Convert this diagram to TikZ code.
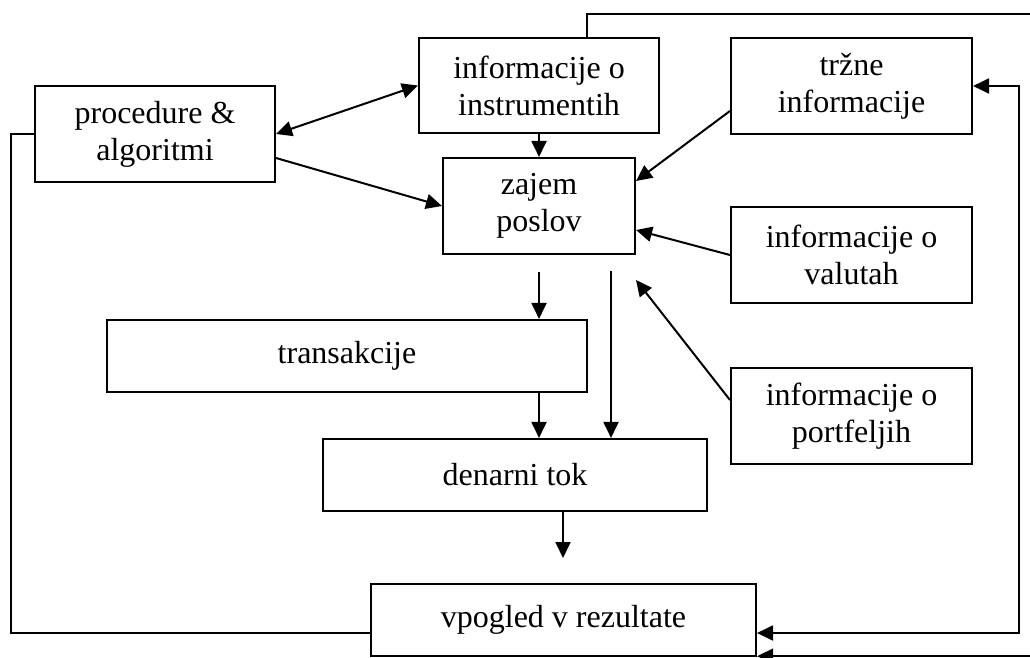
\documentclass[tikz,border=0pt]{standalone}
\usepackage{fontspec}
\setmainfont{Liberation Serif}
\usetikzlibrary{arrows.meta,calc}
\begin{document}
\begin{tikzpicture}[x=1pt,y=1pt,
  box/.style={draw, line width=2.1pt, align=center, inner sep=0pt,
    font=\fontsize{32}{37}\selectfont},
  link/.style={line width=2pt},
  arr/.style={link, -{Triangle[length=16pt,width=15pt]}},
  darr/.style={link, {Triangle[length=16pt,width=15pt]}-{Triangle[length=16pt,width=15pt]}}]
\clip (0,0) rectangle (1030,657);
\fill[white] (0,0) rectangle (1030,657);

% boxes
\node[box, minimum width=240, minimum height=96] (proc)    at (155,523)   {procedure \&\\algoritmi};
\node[box, minimum width=240, minimum height=95] (instr)   at (539,571.5) {informacije o\\instrumentih};
\node[box, minimum width=241, minimum height=96] (trzne)   at (851.5,571) {tržne\\informacije};
\node[box, minimum width=192, minimum height=96] (zajem)   at (539,451)   {zajem\\poslov};
\node[box, minimum width=241, minimum height=96] (valutah) at (851.5,402) {informacije o\\valutah};
\node[box, minimum width=480, minimum height=72] (trans)   at (347,301)   {transakcije};
\node[box, minimum width=241, minimum height=96] (portf)   at (851.5,241) {informacije o\\portfeljih};
\node[box, minimum width=384, minimum height=72] (denarni) at (515,182)   {denarni tok};
\node[box, minimum width=385, minimum height=72] (vpogled) at (563.5,37)  {vpogled v rezultate};

% free ends
\coordinate (ptip) at (636,377);
\coordinate (zs)   at (611,386);
\coordinate (vin)  at (563,99);
\coordinate (lc)   at (11,523);
\coordinate (rc)   at (1019,24);
\coordinate (tr)   at (1045,643);
\coordinate (br)   at (1045,0.8);

% inputs to zajem poslov
\draw[darr] (proc.east) -- (instr.west);
\draw[arr] ([yshift=-24]proc.east) -- (zajem.west);
\draw[arr] (instr.south) -- (zajem.north);
\draw[arr] ([yshift=-25]trzne.west) -- ([yshift=25]zajem.east);
\draw[arr] (valutah.west) -- ([yshift=-24]zajem.east);
\draw[arr] ([yshift=16]portf.west) -- (ptip);

% downward flow
\draw[arr] ([yshift=-17]zajem.south) -- (zajem.south |- trans.north);
\draw[arr] (zs) -- (zs |- denarni.north);
\draw[arr] (zajem.south |- trans.south) -- (zajem.south |- denarni.north);
\draw[arr] (vin |- denarni.south) -- (vin);

% feedback loops
\draw[link] ([yshift=-13]vpogled.west) -| (lc) -- (proc.west);
\draw[darr] (trzne.east) -| (rc) -- ([yshift=-13]vpogled.east);
\draw[link] ([xshift=48]instr.north) |- (tr);
\draw[arr] (br) -- (br -| vpogled.east);
\end{tikzpicture}
\end{document}
